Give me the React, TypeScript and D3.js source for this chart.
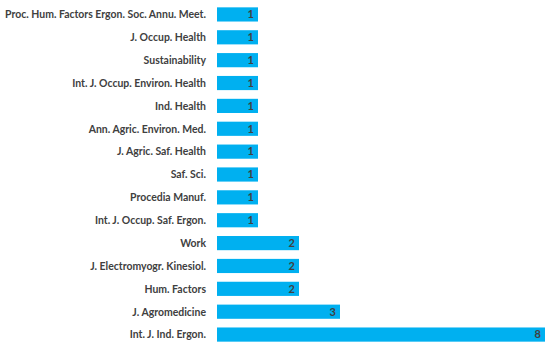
import React, { useEffect, useRef } from 'react';
import * as d3 from 'd3';

const journals = [
  'Proc. Hum. Factors Ergon. Soc. Annu. Meet.',
  'J. Occup. Health',
  'Sustainability',
  'Int. J. Occup. Environ. Health',
  'Ind. Health',
  'Ann. Agric. Environ. Med.',
  'J. Agric. Saf. Health',
  'Saf. Sci.',
  'Procedia Manuf.',
  'Int. J. Occup. Saf. Ergon.',
  'Work',
  'J. Electromyogr. Kinesiol.',
  'Hum. Factors',
  'J. Agromedicine',
  'Int. J. Ind. Ergon.',
];
const counts = [1, 1, 1, 1, 1, 1, 1, 1, 1, 1, 2, 2, 2, 3, 8];

export default function App() {
  const ref = useRef<SVGSVGElement>(null);

  useEffect(() => {
    const svg = d3.select(ref.current);
    svg.selectAll('*').remove();

    const left = 217;
    const xScale = d3.scaleLinear().domain([0, 8]).range([left, 545]);
    const yScale = d3.scaleBand().domain(journals).range([3, 346]).paddingInner(0.38).paddingOuter(0.19);

    const rows = journals.map((j, i) => ({ name: j, value: counts[i] }));
    const g = svg.append('g').attr('font-family', 'Lato, sans-serif').attr('font-weight', 'bold');

    g.selectAll('rect')
      .data(rows)
      .join('rect')
      .attr('x', xScale(0))
      .attr('y', d => yScale(d.name)!)
      .attr('width', d => xScale(d.value) - xScale(0))
      .attr('height', yScale.bandwidth())
      .attr('fill', '#00b0f0');

    const labels = g.selectAll('.lbl')
      .data(rows)
      .join('text')
      .attr('class', 'lbl')
      .attr('x', 206)
      .attr('y', d => yScale(d.name)! + yScale.bandwidth() / 2)
      .attr('dy', '0.35em')
      .attr('text-anchor', 'end')
      .attr('font-size', 11)
      .attr('fill', '#404040')
      .text(d => d.name);

    // narrow the labels a little, the original font is condensed
    labels.each(function () {
      const el = this as SVGTextElement;
      const w = el.getComputedTextLength();
      el.setAttribute('textLength', String(w * 0.95));
      el.setAttribute('lengthAdjust', 'spacingAndGlyphs');
    });

    g.selectAll('.val')
      .data(rows)
      .join('text')
      .attr('class', 'val')
      .attr('x', d => xScale(d.value) - 4)
      .attr('y', d => yScale(d.name)! + yScale.bandwidth() / 2)
      .attr('dy', '0.35em')
      .attr('text-anchor', 'end')
      .attr('font-size', 11)
      .attr('fill', '#404040')
      .text(d => d.value);
  }, []);

  return (
    <svg ref={ref} width={550} height={348} style={{ position: 'absolute', left: 0, top: 0 }} />
  );
}
